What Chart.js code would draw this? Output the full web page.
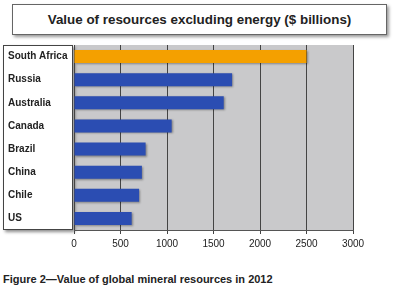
<!DOCTYPE html>
<html>
<head>
<meta charset="utf-8">
<script src="https://cdn.jsdelivr.net/npm/chart.js@4"></script>
<style>
  body { margin: 0; background: #fff; width: 397px; height: 295px; position: relative; overflow: hidden; font-family: "Liberation Sans", Arial, sans-serif; }
  #title { position: absolute; left: 12px; top: 4px; width: 373px; height: 29px; border: 1px solid #666; box-shadow: 2px 2px 3px #999; font-weight: bold; font-size: 13.4px; color: #222; text-align: center; line-height: 29px; }
  #wrap { position: absolute; left: 0; top: 36px; width: 397px; height: 220px; }
  #caption { position: absolute; left: 3px; top: 273px; font-weight: bold; font-size: 11px; color: #222; }
</style>
</head>
<body>
<div id="title">Value of resources excluding energy ($ billions)</div>
<div id="wrap"><canvas id="resources-chart"></canvas></div>
<div id="caption">Figure 2—Value of global mineral resources in 2012</div>
<script>
// 국가 레이블
const countries = ['South Africa', 'Russia', 'Australia', 'Canada', 'Brazil', 'China', 'Chile', 'US'];
// 자원 가치 ($ billions)
const values = [2500, 1700, 1610, 1050, 770, 730, 700, 620];
// 막대 색상
const barColors = ['#f4a000', '#2b4db2', '#2b4db2', '#2b4db2', '#2b4db2', '#2b4db2', '#2b4db2', '#2b4db2'];

// 회색 배경 + 레이블 박스
const backdrop = {
  id: 'backdrop',
  beforeDraw(chart) {
    const { ctx, chartArea } = chart;
    ctx.save();
    ctx.fillStyle = '#c9c9cb';
    ctx.fillRect(chartArea.left, chartArea.top, chartArea.right - chartArea.left, chartArea.bottom - chartArea.top);
    ctx.shadowColor = 'rgba(0,0,0,0.45)';
    ctx.shadowBlur = 3;
    ctx.shadowOffsetX = 2;
    ctx.shadowOffsetY = 2;
    ctx.fillStyle = '#fff';
    ctx.fillRect(3, chartArea.top, chartArea.left - 4, chartArea.bottom - chartArea.top);
    ctx.shadowColor = 'transparent';
    ctx.strokeStyle = '#444';
    ctx.lineWidth = 1;
    ctx.strokeRect(3.5, chartArea.top + 0.5, chartArea.left - 5, chartArea.bottom - chartArea.top - 1);
    ctx.restore();
  },
  beforeDatasetsDraw(chart) {
    const ctx = chart.ctx;
    ctx.save();
    ctx.shadowColor = 'rgba(0,0,0,0.35)';
    ctx.shadowBlur = 2;
    ctx.shadowOffsetX = 1;
    ctx.shadowOffsetY = 1;
  },
  afterDatasetsDraw(chart) {
    chart.ctx.restore();
  },
};

new Chart(document.getElementById('resources-chart'), {
  type: 'bar',
  data: {
    labels: countries,
    datasets: [{
      data: values,
      backgroundColor: barColors,
      borderWidth: 0,
      categoryPercentage: 1,
      barPercentage: 0.56,
    }],
  },
  options: {
    indexAxis: 'y',
    responsive: true,
    maintainAspectRatio: false,
    animation: false,
    layout: { padding: { left: 8, right: 44, top: 5, bottom: 0 } },
    plugins: {
      legend: { display: false },
      tooltip: { enabled: false },
    },
    scales: {
      x: {
        min: 0,
        max: 3000,
        afterFit(scale) { scale.height = 26; },
        ticks: {
          stepSize: 500,
          color: '#222',
          font: { size: 10, family: '"Liberation Sans", Arial' },
          padding: 4,
          callback: (v) => String(v),
        },
        grid: { color: '#444', tickLength: 4, drawTicks: true },
        border: { color: '#555' },
      },
      y: {
        afterFit(scale) { scale.width = 66; },
        ticks: { crossAlign: 'far', color: '#222', font: { size: 10, weight: 'bold', family: '"Liberation Sans", Arial' } },
        grid: { display: false },
        border: { display: false },
      },
    },
  },
  plugins: [backdrop],
});
</script>
</body>
</html>
